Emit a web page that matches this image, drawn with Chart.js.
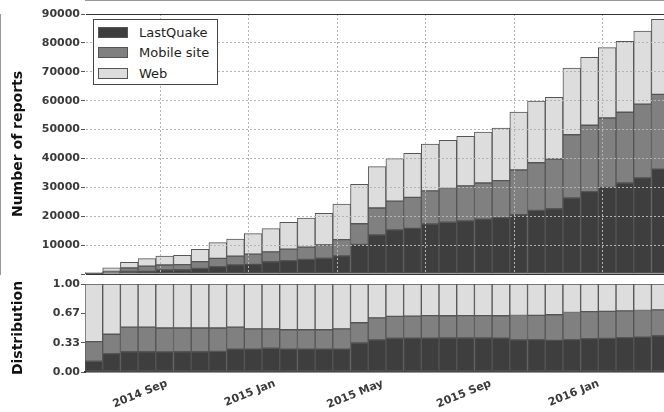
<!DOCTYPE html>
<html>
<head>
<meta charset="utf-8">
<script src="https://cdn.jsdelivr.net/npm/chart.js@4/dist/chart.umd.min.js"></script>
<style>
  html, body { margin: 0; padding: 0; background: #fff; overflow: hidden; }
  #wrap { position: relative; width: 664px; height: 412px; }
  #wrap canvas { position: absolute; left: 0; top: 0; }
  #legend {
    position: absolute; left: 93px; top: 19px; width: 123px; height: 64px;
    border: 1px solid #444; background: #fff;
    font: 13px "DejaVu Sans", sans-serif; color: #1e1e1e;
  }
  #legend .item { position: absolute; left: 4px; height: 12px; display: flex; align-items: center; white-space: nowrap; }
  #legend .sw { width: 30px; height: 11px; border: 1px solid #555; box-sizing: border-box; margin-right: 11px; }
</style>
</head>
<body>
<div id="wrap">
  <canvas id="counts" width="664" height="412"></canvas>
  <canvas id="shares" width="664" height="412"></canvas>
  <div id="legend"></div>
</div>
<script>
// Reports received per period, split by channel (one entry per bar)
const seriesNames = ['LastQuake', 'Mobile site', 'Web'];
const lastQuake  = [55, 440, 930, 1220, 1430, 1485, 1965, 2550, 3145, 3640, 4235, 4655, 5040, 5465, 6300, 10245, 13560,
                    15300, 16100, 17300, 17900, 18400, 19000, 19500, 20500, 22000, 22600, 26300, 28500, 30000, 31500, 33300, 36300];
const mobileSite = [100, 460, 1135, 1480, 1685, 1745, 2305, 2875, 3025, 3220, 3450, 3940, 4265, 4620, 5575, 7140, 9290,
                    9900, 10400, 11500, 11700, 12100, 12500, 12800, 15500, 16500, 17200, 21900, 23000, 24000, 24500, 25500, 25900];
const web        = [295, 1200, 1985, 2600, 3115, 3230, 4270, 5425, 5930, 7140, 7995, 9305, 10085, 10925, 12355, 13665, 14300,
                    14720, 15290, 16210, 16690, 17170, 17660, 18250, 20080, 21390, 21370, 23120, 23520, 24350, 24540, 25330, 25980];

// Axis ticks (in bar-index units)
const countTicks = [0, 10000, 20000, 30000, 40000, 50000, 60000, 70000, 80000, 90000];
const monthGridAt = [3.75, 8.75, 13.75, 18.75, 23.75, 28.75];
const dateTickAt = [2.6, 8.7, 14.8, 20.9, 27.0];
const dateTickLabels = ['2014 Sep', '2015 Jan', '2015 May', '2015 Sep', '2016 Jan'];
const shareTicks = [0, 1 / 3, 2 / 3, 1];

const fills = ['#3e3e3e', '#808080', '#dddddd'];
const edge = '#555555';
const series = [lastQuake, mobileSite, web];

Chart.defaults.font.family = '"DejaVu Sans", sans-serif';
Chart.defaults.font.size = 12;
Chart.defaults.color = '#333';

const tickFont = { size: 11, weight: 'bold' };
const tickColor = '#3a3a3a';
const X_MIN = -0.5, X_MAX = 32.21;
const dotted = [2, 2];

function barSet(values, i) {
  return {
    label: seriesNames[i],
    data: values.map((v, k) => ({ x: k, y: v })),
    backgroundColor: fills[i],
    borderColor: edge,
    borderWidth: 1,
    borderSkipped: false,
    barPercentage: 1,
    categoryPercentage: 1
  };
}

// Left frame edge and axis strip width shared by both panels
const axisWidth = 85;

// ---- upper panel: cumulative report counts ----
new Chart(document.getElementById('counts'), {
  type: 'bar',
  data: { datasets: series.map(barSet) },
  options: {
    responsive: false, animation: false, devicePixelRatio: 1,
    layout: { padding: { top: 14, bottom: 138, left: 0, right: 0 } },
    plugins: { legend: { display: false }, tooltip: { enabled: false } },
    scales: {
      x: {
        type: 'linear', stacked: true, offset: false, min: X_MIN, max: X_MAX,
        afterBuildTicks: s => { s.ticks = monthGridAt.map(v => ({ value: v })); },
        afterFit: s => { s.height = 0; },
        ticks: { display: false },
        grid: { offset: false, color: '#b4b4b4', drawTicks: false, z: 1 },
        border: { color: '#333', width: 1, dash: c => (c.tick ? dotted : []) }
      },
      y: {
        stacked: true, min: 0, max: 90000,
        afterBuildTicks: s => { s.ticks = countTicks.map(v => ({ value: v })); },
        afterFit: s => { s.width = axisWidth; },
        ticks: { padding: 1, color: tickColor, font: tickFont, callback: v => (v === 0 ? '' : String(v)) },
        grid: {
          z: 1, tickLength: 4, tickColor: '#555',
          color: c => (c.tick && (c.tick.value === 90000 || c.tick.value === 0) ? '#333' : '#b4b4b4')
        },
        border: {
          color: '#333', width: 1,
          dash: c => (c.tick && c.tick.value !== 90000 && c.tick.value !== 0 ? dotted : [])
        },
        title: {
          display: true, text: 'Number of reports', color: '#111',
          font: { size: 14, weight: 'bold' }, padding: { top: 10, bottom: 0 }
        }
      }
    }
  }
});

// ---- lower panel: share of each channel ----
const totals = lastQuake.map((v, k) => v + mobileSite[k] + web[k]);
const shares = series.map(s => s.map((v, k) => v / totals[k]));

new Chart(document.getElementById('shares'), {
  type: 'bar',
  data: { datasets: shares.map(barSet) },
  options: {
    responsive: false, animation: false, devicePixelRatio: 1,
    layout: { padding: { top: 284, bottom: 0, left: 0, right: 0 } },
    plugins: { legend: { display: false }, tooltip: { enabled: false } },
    scales: {
      x: {
        type: 'linear', stacked: true, offset: false, min: X_MIN, max: X_MAX,
        afterBuildTicks: s => { s.ticks = dateTickAt.map(v => ({ value: v })); },
        afterFit: s => { s.height = 40; },
        ticks: {
          autoSkip: false, minRotation: 22, maxRotation: 22, padding: 5, labelOffset: 27,
          color: tickColor, font: tickFont, callback: (v, i) => dateTickLabels[i]
        },
        grid: { offset: false, drawOnChartArea: false, drawTicks: false },
        border: { color: '#333', width: 1.5 }
      },
      y: {
        stacked: true, min: 0, max: 1,
        afterBuildTicks: s => { s.ticks = shareTicks.map(v => ({ value: v })); },
        afterFit: s => { s.width = axisWidth; },
        ticks: { padding: 1, color: tickColor, font: tickFont, callback: v => v.toFixed(2) },
        grid: {
          tickLength: 4, tickColor: '#555',
          color: c => (c.tick && c.tick.value === 1 ? '#333' : 'rgba(0,0,0,0)')
        },
        border: { color: '#333', width: 1 },
        title: {
          display: true, text: 'Distribution', color: '#111',
          font: { size: 14, weight: 'bold' }, padding: { top: 10, bottom: 0 }
        }
      }
    }
  }
});

// Legend box in the upper-left corner of the counts panel
const legend = document.getElementById('legend');
seriesNames.forEach((name, i) => {
  const item = document.createElement('div');
  item.className = 'item';
  item.style.top = (6 + i * 20.5) + 'px';
  const sw = document.createElement('span');
  sw.className = 'sw';
  sw.style.background = fills[i];
  const txt = document.createElement('span');
  txt.textContent = name;
  item.appendChild(sw);
  item.appendChild(txt);
  legend.appendChild(item);
});
</script>
</body>
</html>
